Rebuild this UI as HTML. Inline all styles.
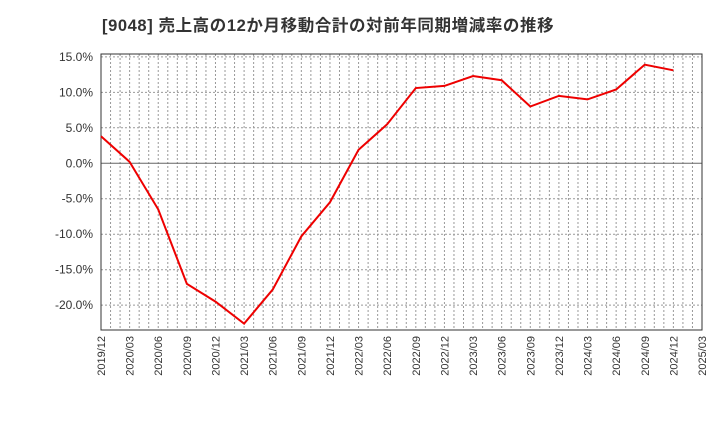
<!DOCTYPE html>
<html><head><meta charset="utf-8"><style>
body{margin:0;background:#fff;}
svg text{font-family:"Liberation Sans","Noto Sans CJK JP",sans-serif;}
</style></head><body>
<svg id="c" width="720" height="440"></svg>
<script>
const categories=["2019/12","2020/03","2020/06","2020/09","2020/12","2021/03","2021/06","2021/09","2021/12","2022/03","2022/06","2022/09","2022/12","2023/03","2023/06","2023/09","2023/12","2024/03","2024/06","2024/09","2024/12"];
const values=[3.8,0.2,-6.5,-17.0,-19.5,-22.6,-17.8,-10.3,-5.5,1.9,5.5,10.6,10.9,12.3,11.7,8.0,9.5,9.0,10.4,13.9,13.1];
const xTicks=["2019/12","2020/03","2020/06","2020/09","2020/12","2021/03","2021/06","2021/09","2021/12","2022/03","2022/06","2022/09","2022/12","2023/03","2023/06","2023/09","2023/12","2024/03","2024/06","2024/09","2024/12","2025/03"];
const yTicks=[15,10,5,0,-5,-10,-15,-20];
const L=101,R=702,T=54,B=330,yMin=-23.5,yMax=15.4;
const ns="http://www.w3.org/2000/svg",svg=document.getElementById('c');
function y(v){return B-(v-yMin)/(yMax-yMin)*(B-T);}
function x(i){return L+i*(R-L)/(xTicks.length-1);}
function mk(t,a,p){const e=document.createElementNS(ns,t);for(const k in a)e.setAttribute(k,a[k]);(p||svg).appendChild(e);return e;}
const title=mk('text',{x:102,y:31,'font-size':16.5,'font-weight':'bold',fill:'#333','letter-spacing':0.6});title.textContent='[9048]  売上高の12か月移動合計の対前年同期増減率の推移';


const g=mk('g',{});


const nMonths=(xTicks.length-1)*3;
for(let m=1;m<nMonths;m++){const xx=L+m*(R-L)/nMonths;mk('line',{x1:xx,x2:xx,y1:T,y2:B,stroke:'#999','stroke-dasharray':'2,2','stroke-width':1},g);}
yTicks.forEach(v=>{const yy=y(v);mk('line',{x1:L,x2:R,y1:yy,y2:yy,stroke:v===0?'#666':'#999','stroke-dasharray':v===0?'':'2,2','stroke-width':1},g);
const t=mk('text',{x:L-8,y:yy+4,'text-anchor':'end','font-size':12,fill:'#333'});t.textContent=v.toFixed(1)+'%';

});
xTicks.forEach((s,i)=>{const xx=x(i);const t=mk('text',{x:0,y:0,'text-anchor':'end','font-size':11,fill:'#333',transform:`translate(${xx+4},${B+6}) rotate(-90)`});t.textContent=s;

});
const fr=mk('rect',{x:L,y:T,width:R-L,height:B-T,fill:'none',stroke:'#333'});


const line=mk('polyline',{points:values.map((v,i)=>x(i)+','+y(v)).join(' '),fill:'none',stroke:'#e00','stroke-width':2});


</script>
</body></html>
